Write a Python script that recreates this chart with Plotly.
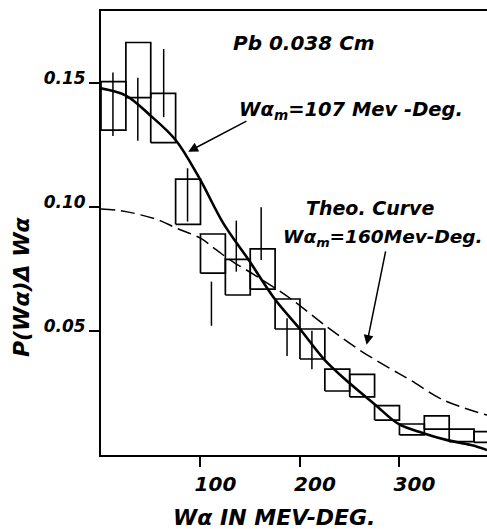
import plotly.graph_objects as go

# ---------------- data ----------------
bin_left = [0, 25, 50, 75, 100, 125, 150, 175, 200, 225, 250, 275, 300, 325, 350, 375]
bin_width = 25
box_top = [0.1505, 0.1663, 0.1458, 0.1112, 0.0891, 0.0789, 0.0831, 0.0629,
           0.0508, 0.0346, 0.0325, 0.0199, 0.0125, 0.0158, 0.0104, 0.0094]
box_bot = [0.1310, 0.1441, 0.1259, 0.0930, 0.0733, 0.0645, 0.0669, 0.0508,
           0.0387, 0.0258, 0.0234, 0.0141, 0.0081, 0.0104, 0.0054, 0.0051]

err_x = [12, 37, 63, 87, 111, 136, 161, 187, 212]
err_lo = [0.1286, 0.1267, 0.1362, 0.0941, 0.0521, 0.0739, 0.0786, 0.0399, 0.0346]
err_hi = [0.1542, 0.1521, 0.1637, 0.1156, 0.0699, 0.0945, 0.0999, 0.0551, 0.0501]

# fitted curve, W_am = 107 Mev-Deg (solid)
fit_w = [0, 25, 49, 75, 99, 123, 148, 175, 200, 224, 250, 275, 299.5, 324, 348, 372, 388]
fit_p = [0.1478, 0.1449, 0.1371, 0.1270, 0.1115, 0.0934, 0.0789, 0.0627, 0.0508,
         0.0387, 0.0289, 0.0205, 0.0124, 0.0088, 0.0060, 0.0040, 0.0020]

# theoretical curve, W_am = 160 Mev-Deg (dashed)
theo_w = [0, 20, 40, 60, 76, 100, 116, 130, 157, 190, 227, 260, 290, 311, 344, 388]
theo_p = [0.0992, 0.0985, 0.0968, 0.0944, 0.0914, 0.0874, 0.0827, 0.0786, 0.0719,
          0.0632, 0.0517, 0.0423, 0.0350, 0.0302, 0.0222, 0.0161]

x_ticks = [100, 200, 300]
y_ticks = [0.05, 0.10, 0.15]
y_tick_text = ["0.05", "0.10", "0.15"]

# ---------------- figure ----------------
FONT = "DejaVu Sans"

def tf(size):
    return dict(family=FONT, size=size, color="black", weight="bold", style="italic")

box_x, box_y = [], []
for xl, t, b in zip(bin_left, box_top, box_bot):
    xr = xl + bin_width
    box_x += [xl, xl, xr, xr, xl, None]
    box_y += [b, t, t, b, b, None]

ex, ey = [], []
for x, lo, hi in zip(err_x, err_lo, err_hi):
    ex += [x, x, None]
    ey += [lo, hi, None]

fig = go.Figure()
fig.add_trace(go.Scatter(x=box_x, y=box_y, mode="lines",
                         line=dict(color="black", width=1.7), hoverinfo="skip"))
fig.add_trace(go.Scatter(x=ex, y=ey, mode="lines",
                         line=dict(color="black", width=1.5), hoverinfo="skip"))
fig.add_trace(go.Scatter(x=theo_w, y=theo_p, mode="lines",
                         line=dict(color="black", width=1.5, dash="14px,6px",
                                   shape="spline", smoothing=1.0)))
fig.add_trace(go.Scatter(x=fit_w, y=fit_p, mode="lines",
                         line=dict(color="black", width=2.6, shape="spline", smoothing=1.0)))

annotations = [
    dict(x=204, y=0.1661, text="Pb 0.038 Cm", showarrow=False, font=tf(20)),
    dict(x=137, y=0.1388, text="Wα<sub>m</sub>=107 Mev -Deg.", showarrow=False,
         xanchor="left", font=tf(19.5)),
    dict(x=270, y=0.0996, text="Theo. Curve", showarrow=False, font=tf(19)),
    dict(x=181, y=0.0875, text="Wα<sub>m</sub>=160Mev-Deg.", showarrow=False,
         xanchor="left", font=tf(18.5)),
    # axis titles
    dict(x=174, y=0, xref="x", yref="y", text="Wα IN MEV-DEG.", showarrow=False,
         yanchor="middle", yshift=-62, font=tf(22)),
    dict(x=0, y=0.0677, xref="x", yref="y", text="P(Wα)Δ Wα", showarrow=False,
         textangle=-90, xanchor="center", xshift=-80, font=tf(22)),
    # arrows
    dict(x=87.7, y=0.1223, ax=147.7, ay=0.1349, axref="x", ayref="y", text="",
         showarrow=True, arrowhead=2, arrowsize=1.3, arrowwidth=1.5, arrowcolor="black"),
    dict(x=267, y=0.0444, ax=286.4, ay=0.0827, axref="x", ayref="y", text="",
         showarrow=True, arrowhead=2, arrowsize=1.3, arrowwidth=1.5, arrowcolor="black"),
]

fig.update_layout(
    width=487, height=529,
    margin=dict(l=101, r=0, t=11, b=74),
    paper_bgcolor="white", plot_bgcolor="white",
    showlegend=False,
    annotations=annotations,
    xaxis=dict(range=[0, 388], tickvals=x_ticks, ticks="outside", ticklen=10,
               tickwidth=2, tickcolor="black", showline=True, linecolor="black",
               linewidth=2, mirror=True, showgrid=False, zeroline=False,
               tickfont=tf(20), ticklabelshift=15),
    yaxis=dict(range=[0, 0.179], tickvals=y_ticks, ticktext=y_tick_text,
               ticks="outside", ticklen=10, tickwidth=2, tickcolor="black",
               showline=True, linecolor="black", linewidth=2, showgrid=False,
               zeroline=False, tickfont=tf(17), ticklabelshift=-5),
)

fig.write_html("out.html")
